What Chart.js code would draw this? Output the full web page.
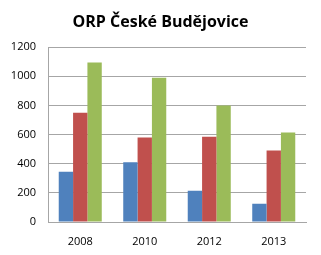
<!DOCTYPE html>
<html>
<head>
<meta charset="utf-8">
<script src="https://cdn.jsdelivr.net/npm/chart.js@4"></script>
<style>
  html, body { margin: 0; padding: 0; background: #fff; }
  #wrap { width: 321px; height: 255px; }
</style>
</head>
<body>
<div id="wrap"><canvas id="chart" width="321" height="255"></canvas></div>
<script>
// data
const years = ['2008', '2010', '2012', '2013'];
const seriesBlue = [345, 410, 215, 125];
const seriesRed = [750, 580, 585, 490];
const seriesGreen = [1095, 990, 800, 615];
const yTicks = [0, 200, 400, 600, 800, 1000, 1200];

const ctx = document.getElementById('chart');

new Chart(ctx, {
  type: 'bar',
  data: {
    labels: years,
    datasets: [
      { data: seriesBlue, backgroundColor: '#4F81BD' },
      { data: seriesRed, backgroundColor: '#C0504D' },
      { data: seriesGreen, backgroundColor: '#9BBB59' }
    ]
  },
  options: {
    responsive: false,
    animation: false,
    devicePixelRatio: 1,
    layout: { padding: 0 },
    datasets: {
      bar: { categoryPercentage: 0.667, barPercentage: 1 }
    },
    plugins: {
      legend: { display: false },
      tooltip: { enabled: false },
      title: {
        display: true,
        text: 'ORP České Budějovice',
        color: '#000',
        font: { family: 'Open Sans', size: 16, weight: 'bold' },
        padding: { top: 13, bottom: 15 }
      }
    },
    scales: {
      x: {
        grid: { display: false, drawTicks: false },
        border: { display: true, color: '#a6a6a6' },
        ticks: { color: '#000', padding: 13, font: { family: 'Open Sans', size: 11 } },
        afterFit: (scale) => { scale.height = 33; }
      },
      y: {
        min: 0,
        max: 1200,
        afterBuildTicks: (scale) => { scale.ticks = yTicks.map(v => ({ value: v })); },
        grid: { color: '#a6a6a6', drawTicks: false },
        border: { display: true, color: '#a6a6a6' },
        ticks: {
          color: '#000', padding: 12, autoSkip: false,
          font: { family: 'Open Sans', size: 11 },
          callback: (v) => String(v)
        },
        afterFit: (scale) => { scale.width = 48; }
      },
      // empty right axis, only keeps the plot off the right edge
      yRight: {
        position: 'right',
        min: 0,
        max: 1200,
        grid: { display: false, drawTicks: false },
        border: { display: false },
        ticks: { display: false },
        afterFit: (scale) => { scale.width = 15; }
      }
    }
  }
});
</script>
</body>
</html>
